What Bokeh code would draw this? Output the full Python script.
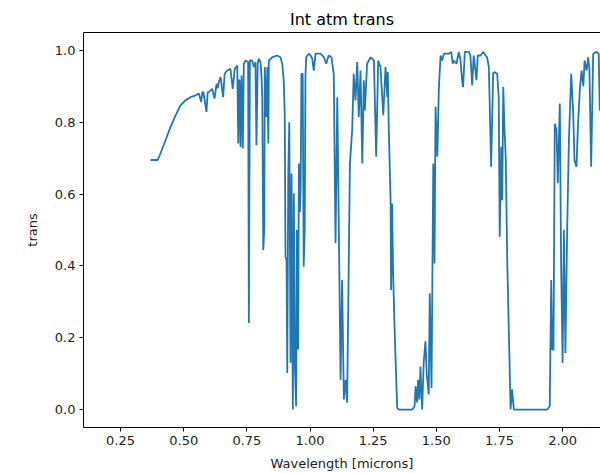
from bokeh.plotting import figure
from bokeh.models import FixedTicker, PrintfTickFormatter, LinearAxis, Range1d
from bokeh.embed import file_html
from bokeh.resources import INLINE

wavelength = [
    0.369, 0.397, 0.408, 0.428, 0.448, 0.468, 0.487, 0.507, 0.527, 0.547,
    0.560, 0.569, 0.574, 0.578, 0.590, 0.595, 0.599, 0.613, 0.622, 0.630,
    0.635, 0.639, 0.646, 0.656, 0.662, 0.672, 0.685, 0.694, 0.702, 0.712,
    0.716, 0.719, 0.721, 0.725, 0.729, 0.734, 0.738, 0.745, 0.755, 0.758,
    0.762, 0.771, 0.778, 0.784, 0.788, 0.793, 0.797, 0.804, 0.808, 0.811,
    0.815, 0.819, 0.821, 0.827, 0.831, 0.835, 0.837, 0.850, 0.870, 0.883,
    0.890, 0.896, 0.900, 0.903, 0.907, 0.910, 0.914, 0.918, 0.923, 0.927,
    0.932, 0.936, 0.940, 0.945, 0.948, 0.953, 0.956, 0.960, 0.963, 0.966,
    0.971, 0.975, 0.979, 0.982, 0.985, 0.995, 1.002, 1.009, 1.015, 1.022,
    1.042, 1.055, 1.064, 1.074, 1.085, 1.094, 1.101, 1.108, 1.121, 1.127,
    1.134, 1.141, 1.147, 1.158, 1.167, 1.173, 1.180, 1.187, 1.193, 1.200,
    1.207, 1.213, 1.217, 1.226, 1.240, 1.253, 1.262, 1.270, 1.279, 1.290,
    1.299, 1.306, 1.308, 1.312, 1.319, 1.321, 1.325, 1.329, 1.335, 1.345,
    1.352, 1.405, 1.414, 1.418, 1.424, 1.428, 1.433, 1.437, 1.444, 1.450,
    1.457, 1.462, 1.470, 1.474, 1.481, 1.488, 1.493, 1.497, 1.504, 1.510,
    1.517, 1.523, 1.530, 1.550, 1.559, 1.565, 1.569, 1.580, 1.589, 1.596,
    1.602, 1.606, 1.613, 1.629, 1.635, 1.642, 1.648, 1.659, 1.664, 1.675,
    1.686, 1.695, 1.701, 1.708, 1.717, 1.725, 1.730, 1.741, 1.747, 1.751,
    1.757, 1.761, 1.765, 1.770, 1.775, 1.781, 1.787, 1.794, 1.800, 1.807,
    1.939, 1.949, 1.955, 1.959, 1.964, 1.969, 1.976, 1.981, 1.989, 1.994,
    2.000, 2.005, 2.011, 2.018, 2.025, 2.034, 2.042, 2.047, 2.055, 2.060,
    2.068, 2.075, 2.082, 2.087, 2.095, 2.101, 2.106, 2.113, 2.121, 2.134,
    2.143, 2.147, 2.160,
]
trans = [
    0.695, 0.695, 0.713, 0.750, 0.787, 0.819, 0.847, 0.861, 0.870, 0.875,
    0.880, 0.857, 0.884, 0.884, 0.829, 0.884, 0.884, 0.893, 0.866, 0.907,
    0.895, 0.912, 0.926, 0.870, 0.935, 0.944, 0.949, 0.893, 0.949, 0.958,
    0.741, 0.917, 0.917, 0.731, 0.930, 0.727, 0.963, 0.972, 0.968, 0.241,
    0.972, 0.972, 0.954, 0.968, 0.736, 0.963, 0.977, 0.968, 0.930, 0.870,
    0.444, 0.505, 0.954, 0.815, 0.954, 0.741, 0.972, 0.981, 0.986, 0.981,
    0.963, 0.917, 0.824, 0.426, 0.417, 0.102, 0.657, 0.800, 0.130, 0.657,
    0.000, 0.602, 0.120, 0.009, 0.500, 0.167, 0.685, 0.550, 0.620, 0.935,
    0.935, 0.398, 0.500, 0.930, 0.981, 0.991, 0.986, 0.977, 0.944, 0.991,
    0.991, 0.981, 0.963, 0.986, 0.981, 0.935, 0.463, 0.870, 0.083, 0.361,
    0.028, 0.083, 0.019, 0.685, 0.778, 0.935, 0.861, 0.968, 0.815, 0.944,
    0.685, 0.917, 0.833, 0.963, 0.981, 0.972, 0.704, 0.972, 0.954, 0.820,
    0.954, 0.870, 0.940, 0.778, 0.583, 0.333, 0.574, 0.380, 0.222, 0.005,
    0.000, 0.000, 0.009, 0.065, 0.020, 0.083, 0.028, 0.120, 0.000, 0.130,
    0.190, 0.100, 0.042, 0.324, 0.060, 0.685, 0.407, 0.843, 0.704, 0.893,
    0.986, 0.972, 0.991, 0.991, 0.996, 0.963, 0.972, 0.963, 0.996, 0.972,
    0.917, 0.898, 0.996, 0.996, 0.986, 0.903, 0.986, 0.917, 0.986, 0.986,
    0.996, 0.986, 0.981, 0.954, 0.676, 0.935, 0.940, 0.935, 0.870, 0.481,
    0.731, 0.583, 0.898, 0.778, 0.700, 0.407, 0.222, 0.000, 0.056, 0.000,
    0.000, 0.009, 0.361, 0.167, 0.167, 0.796, 0.778, 0.630, 0.852, 0.407,
    0.130, 0.500, 0.157, 0.500, 0.750, 0.935, 0.824, 0.694, 0.676, 0.778,
    0.889, 0.944, 0.900, 0.972, 0.944, 0.981, 0.950, 0.676, 0.991, 0.996,
    0.991, 0.833, 0.880,
]
x_ticks = [0.25, 0.50, 0.75, 1.00, 1.25, 1.50, 1.75, 2.00]
y_ticks = [0.0, 0.2, 0.4, 0.6, 0.8, 1.0]

FONT = "DejaVu Sans"

p = figure(width=600, height=473, output_backend="svg", toolbar_location=None,
           x_range=Range1d(0.1033, 2.150), y_range=Range1d(-0.05, 1.05),
           min_border_left=83, min_border_right=0, min_border_top=32,
           min_border_bottom=45, title="Int atm trans")
p.outline_line_color = None
p.grid.visible = False
p.background_fill_color = "white"
p.border_fill_color = "white"

p.title.text_font = FONT
p.title.text_font_size = "16px"
p.title.text_font_style = "normal"
p.title.align = "center"
p.title.standoff = 8
p.title.text_color = "black"

p.line(wavelength, trans, line_color="#1f77b4", line_width=1.8)

for ax, ticks, fmt in ((p.xaxis[0], x_ticks, "%.2f"), (p.yaxis[0], y_ticks, "%.1f")):
    ax.ticker = FixedTicker(ticks=ticks)
    ax.formatter = PrintfTickFormatter(format=fmt)
    ax.minor_tick_line_color = None
    ax.major_tick_in = 0
    ax.major_tick_out = 4
    ax.major_label_text_font = FONT
    ax.major_label_text_font_size = "13px"
    ax.major_label_text_color = "#222222"
    ax.axis_label_text_font = FONT
    ax.axis_label_text_font_size = "13px"
    ax.axis_label_text_font_style = "normal"
    ax.axis_label_text_color = "#222222"
    ax.axis_line_color = "black"
    ax.major_tick_line_color = "black"
    ax.major_label_standoff = 4

p.xaxis.axis_label = "Wavelength [microns]"
p.xaxis.axis_label_standoff = 8
p.yaxis.axis_label = "trans"
p.yaxis.axis_label_standoff = 12

top = LinearAxis(ticker=FixedTicker(ticks=[]), major_tick_line_color=None,
                 minor_tick_line_color=None, major_label_text_font_size="0px",
                 axis_line_color="black")
p.add_layout(top, "above")

open("out.html", "w").write(file_html(p, INLINE))
